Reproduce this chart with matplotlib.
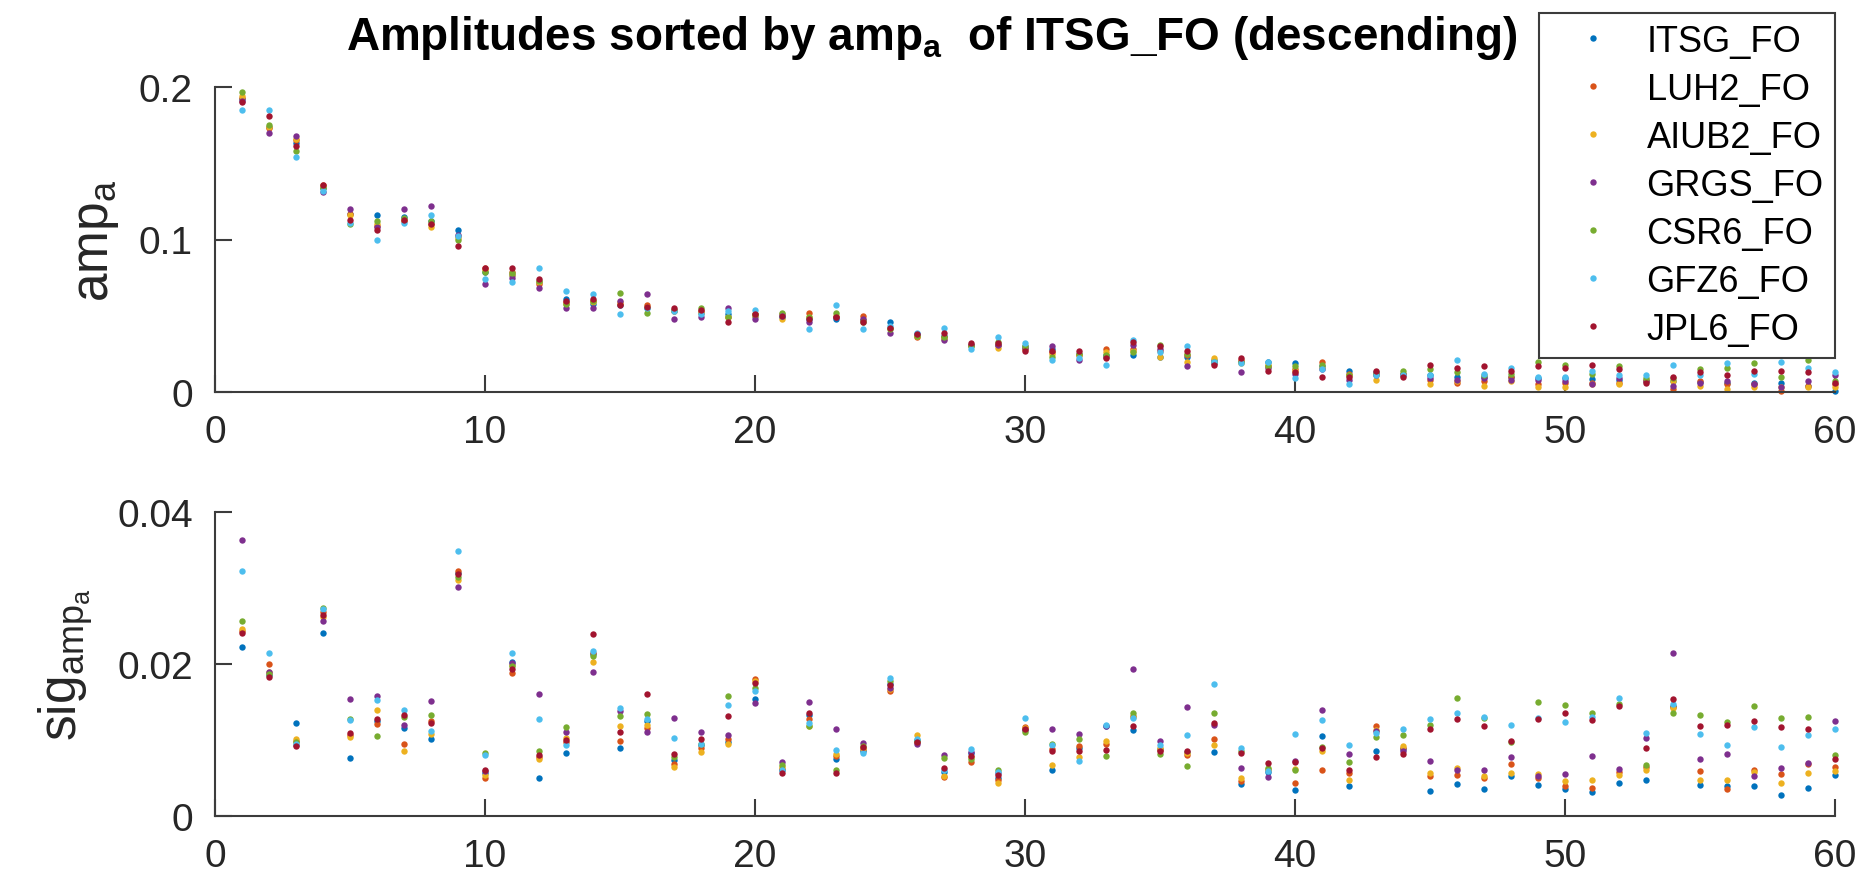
import matplotlib
matplotlib.use('Agg')
import matplotlib.pyplot as plt

plt.rcParams['font.family'] = ['Liberation Sans', 'DejaVu Sans']
plt.rcParams['mathtext.fontset'] = 'custom'
plt.rcParams['mathtext.rm'] = 'Liberation Sans'
plt.rcParams['mathtext.bf'] = 'Liberation Sans:bold'

# rank of the coefficient after sorting by ITSG_FO amplitude
rank = list(range(1, 61))

solutions = ['ITSG_FO', 'LUH2_FO', 'AIUB2_FO', 'GRGS_FO', 'CSR6_FO', 'GFZ6_FO', 'JPL6_FO']

# amplitude amp_a
amp_itsg = [0.192, 0.174, 0.163, 0.134, 0.117, 0.116, 0.115, 0.112, 0.106, 0.079,
            0.077, 0.072, 0.061, 0.058, 0.057, 0.055, 0.053, 0.052, 0.051, 0.050,
            0.049, 0.048, 0.048, 0.047, 0.046, 0.038, 0.037, 0.031, 0.031, 0.030,
            0.028, 0.025, 0.024, 0.024, 0.023, 0.023, 0.021, 0.020, 0.020, 0.019,
            0.017, 0.014, 0.013, 0.012, 0.011, 0.010, 0.010, 0.0098, 0.0095, 0.009,
            0.0087, 0.008, 0.0075, 0.007, 0.0065, 0.0062, 0.006, 0.0057, 0.004, 0.0004]
amp_luh2 = [0.193, 0.173, 0.165, 0.136, 0.117, 0.109, 0.112, 0.110, 0.102, 0.081,
            0.079, 0.071, 0.059, 0.060, 0.058, 0.057, 0.054, 0.053, 0.049, 0.051,
            0.051, 0.052, 0.049, 0.050, 0.042, 0.036, 0.036, 0.031, 0.031, 0.028,
            0.026, 0.024, 0.028, 0.028, 0.027, 0.024, 0.019, 0.021, 0.017, 0.015,
            0.020, 0.012, 0.012, 0.012, 0.008, 0.006, 0.007, 0.010, 0.005, 0.006,
            0.006, 0.006, 0.008, 0.002, 0.007, 0.005, 0.005, 0.0004, 0.004, 0.005]
amp_aiub2 = [0.194, 0.174, 0.166, 0.135, 0.116, 0.110, 0.113, 0.108, 0.101, 0.080,
             0.077, 0.072, 0.058, 0.059, 0.059, 0.056, 0.053, 0.052, 0.049, 0.050,
             0.048, 0.049, 0.050, 0.047, 0.042, 0.037, 0.035, 0.030, 0.029, 0.028,
             0.025, 0.024, 0.026, 0.027, 0.023, 0.020, 0.022, 0.019, 0.018, 0.014,
             0.016, 0.011, 0.008, 0.011, 0.005, 0.007, 0.004, 0.007, 0.003, 0.003,
             0.005, 0.005, 0.007, 0.007, 0.004, 0.002, 0.003, 0.003, 0.003, 0.003]
amp_grgs = [0.191, 0.170, 0.168, 0.131, 0.120, 0.108, 0.120, 0.122, 0.103, 0.071,
            0.075, 0.068, 0.055, 0.055, 0.060, 0.064, 0.048, 0.049, 0.055, 0.048,
            0.050, 0.046, 0.049, 0.048, 0.039, 0.038, 0.034, 0.031, 0.031, 0.029,
            0.030, 0.021, 0.023, 0.031, 0.028, 0.017, 0.019, 0.013, 0.016, 0.012,
            0.015, 0.008, 0.011, 0.011, 0.009, 0.008, 0.009, 0.008, 0.008, 0.007,
            0.005, 0.009, 0.0075, 0.004, 0.006, 0.007, 0.005, 0.003, 0.007, 0.011]
amp_csr6 = [0.197, 0.175, 0.158, 0.134, 0.110, 0.112, 0.114, 0.112, 0.100, 0.079,
            0.078, 0.073, 0.058, 0.060, 0.065, 0.052, 0.054, 0.055, 0.049, 0.051,
            0.052, 0.049, 0.052, 0.046, 0.041, 0.037, 0.036, 0.030, 0.033, 0.030,
            0.023, 0.025, 0.024, 0.026, 0.031, 0.025, 0.020, 0.020, 0.017, 0.017,
            0.018, 0.011, 0.012, 0.014, 0.015, 0.013, 0.011, 0.012, 0.020, 0.018,
            0.012, 0.017, 0.009, 0.009, 0.015, 0.016, 0.019, 0.010, 0.021, 0.007]
amp_gfz6 = [0.185, 0.185, 0.154, 0.132, 0.111, 0.100, 0.111, 0.116, 0.102, 0.074,
            0.072, 0.081, 0.066, 0.064, 0.051, 0.055, 0.053, 0.051, 0.053, 0.054,
            0.050, 0.041, 0.057, 0.041, 0.043, 0.039, 0.042, 0.028, 0.036, 0.032,
            0.021, 0.022, 0.018, 0.034, 0.026, 0.030, 0.020, 0.019, 0.020, 0.009,
            0.015, 0.005, 0.011, 0.011, 0.011, 0.021, 0.012, 0.016, 0.010, 0.010,
            0.014, 0.011, 0.011, 0.0175, 0.011, 0.019, 0.012, 0.020, 0.016, 0.013]
amp_jpl6 = [0.190, 0.181, 0.161, 0.136, 0.113, 0.106, 0.113, 0.110, 0.096, 0.081,
            0.081, 0.074, 0.060, 0.061, 0.057, 0.056, 0.055, 0.054, 0.046, 0.051,
            0.050, 0.048, 0.049, 0.046, 0.042, 0.038, 0.039, 0.032, 0.032, 0.027,
            0.027, 0.027, 0.022, 0.033, 0.030, 0.027, 0.018, 0.022, 0.014, 0.013,
            0.010, 0.010, 0.014, 0.010, 0.018, 0.016, 0.017, 0.014, 0.017, 0.016,
            0.018, 0.015, 0.006, 0.010, 0.013, 0.011, 0.014, 0.014, 0.013, 0.006]

# formal error sig_amp_a
sig_itsg = [0.0222, 0.0186, 0.0122, 0.0241, 0.0076, 0.0125, 0.0116, 0.0101, 0.0320, 0.0057,
            0.0203, 0.0050, 0.0083, 0.0213, 0.0090, 0.0125, 0.0074, 0.0093, 0.0098, 0.0154,
            0.0060, 0.0133, 0.0075, 0.0086, 0.0174, 0.0100, 0.0058, 0.0083, 0.0050, 0.0115,
            0.0061, 0.0090, 0.0118, 0.0113, 0.0088, 0.0084, 0.0084, 0.0042, 0.0058, 0.0034,
            0.0105, 0.0039, 0.0086, 0.0088, 0.0033, 0.0042, 0.0035, 0.0052, 0.0041, 0.0035,
            0.0032, 0.0043, 0.0048, 0.0145, 0.0041, 0.0040, 0.0039, 0.0027, 0.0037, 0.0054]
sig_luh2 = [0.0243, 0.0200, 0.0099, 0.0268, 0.0107, 0.0121, 0.0095, 0.0125, 0.0323, 0.0050,
            0.0188, 0.0078, 0.0098, 0.0215, 0.0099, 0.0116, 0.0069, 0.0090, 0.0101, 0.0180,
            0.0062, 0.0128, 0.0079, 0.0088, 0.0164, 0.0097, 0.0051, 0.0071, 0.0048, 0.0117,
            0.0088, 0.0092, 0.0095, 0.0132, 0.0087, 0.0080, 0.0101, 0.0046, 0.0060, 0.0043,
            0.0060, 0.0057, 0.0118, 0.0090, 0.0052, 0.0054, 0.0050, 0.0068, 0.0050, 0.0039,
            0.0037, 0.0058, 0.0064, 0.0144, 0.0059, 0.0036, 0.0061, 0.0055, 0.0068, 0.0065]
sig_aiub2 = [0.0246, 0.0190, 0.0101, 0.0262, 0.0104, 0.0139, 0.0085, 0.0108, 0.0310, 0.0054,
             0.0199, 0.0075, 0.0102, 0.0202, 0.0118, 0.0120, 0.0064, 0.0084, 0.0095, 0.0178,
             0.0064, 0.0118, 0.0082, 0.0089, 0.0167, 0.0106, 0.0053, 0.0077, 0.0043, 0.0116,
             0.0067, 0.0077, 0.0099, 0.0130, 0.0090, 0.0083, 0.0093, 0.0050, 0.0062, 0.0062,
             0.0085, 0.0048, 0.0113, 0.0092, 0.0057, 0.0063, 0.0053, 0.0056, 0.0055, 0.0046,
             0.0048, 0.0054, 0.0061, 0.0142, 0.0048, 0.0047, 0.0058, 0.0043, 0.0057, 0.0059]
sig_grgs = [0.0363, 0.0190, 0.0094, 0.0257, 0.0154, 0.0158, 0.0120, 0.0151, 0.0301, 0.0059,
            0.0201, 0.0160, 0.0110, 0.0189, 0.0138, 0.0110, 0.0129, 0.0110, 0.0107, 0.0149,
            0.0071, 0.0150, 0.0114, 0.0096, 0.0169, 0.0095, 0.0080, 0.0084, 0.0057, 0.0113,
            0.0114, 0.0108, 0.0118, 0.0193, 0.0099, 0.0143, 0.0120, 0.0063, 0.0051, 0.0073,
            0.0139, 0.0082, 0.0112, 0.0086, 0.0073, 0.0061, 0.0060, 0.0078, 0.0053, 0.0055,
            0.0079, 0.0062, 0.0103, 0.0214, 0.0075, 0.0081, 0.0053, 0.0063, 0.0070, 0.0125]
sig_csr6 = [0.0257, 0.0187, 0.0097, 0.0274, 0.0128, 0.0105, 0.0130, 0.0133, 0.0314, 0.0083,
            0.0197, 0.0085, 0.0117, 0.0211, 0.0131, 0.0134, 0.0078, 0.0095, 0.0158, 0.0169,
            0.0067, 0.0119, 0.0061, 0.0092, 0.0178, 0.0099, 0.0076, 0.0075, 0.0061, 0.0111,
            0.0095, 0.0101, 0.0079, 0.0135, 0.0081, 0.0066, 0.0136, 0.0086, 0.0063, 0.0061,
            0.0091, 0.0071, 0.0104, 0.0106, 0.0120, 0.0155, 0.0129, 0.0098, 0.0150, 0.0146,
            0.0135, 0.0148, 0.0067, 0.0135, 0.0133, 0.0124, 0.0145, 0.0129, 0.0130, 0.0080]
sig_gfz6 = [0.0322, 0.0214, 0.0095, 0.0272, 0.0126, 0.0152, 0.0140, 0.0112, 0.0349, 0.0080,
            0.0215, 0.0127, 0.0093, 0.0217, 0.0142, 0.0127, 0.0102, 0.0095, 0.0146, 0.0164,
            0.0061, 0.0122, 0.0087, 0.0083, 0.0182, 0.0101, 0.0060, 0.0088, 0.0058, 0.0129,
            0.0094, 0.0073, 0.0120, 0.0129, 0.0093, 0.0106, 0.0174, 0.0090, 0.0059, 0.0108,
            0.0126, 0.0093, 0.0109, 0.0114, 0.0128, 0.0136, 0.0130, 0.0120, 0.0129, 0.0124,
            0.0130, 0.0155, 0.0109, 0.0148, 0.0108, 0.0094, 0.0117, 0.0091, 0.0106, 0.0114]
sig_jpl6 = [0.0241, 0.0183, 0.0092, 0.0264, 0.0109, 0.0127, 0.0133, 0.0123, 0.0318, 0.0061,
            0.0194, 0.0080, 0.0100, 0.0239, 0.0110, 0.0160, 0.0081, 0.0101, 0.0132, 0.0175,
            0.0056, 0.0136, 0.0057, 0.0091, 0.0172, 0.0098, 0.0063, 0.0079, 0.0054, 0.0114,
            0.0085, 0.0086, 0.0087, 0.0118, 0.0085, 0.0086, 0.0123, 0.0083, 0.0070, 0.0071,
            0.0089, 0.0060, 0.0077, 0.0082, 0.0115, 0.0128, 0.0118, 0.0099, 0.0127, 0.0136,
            0.0126, 0.0145, 0.0089, 0.0154, 0.0118, 0.0120, 0.0125, 0.0117, 0.0114, 0.0075]

amp_all = [amp_itsg, amp_luh2, amp_aiub2, amp_grgs, amp_csr6, amp_gfz6, amp_jpl6]
sig_all = [sig_itsg, sig_luh2, sig_aiub2, sig_grgs, sig_csr6, sig_gfz6, sig_jpl6]

# MATLAB default colour order
colors = ['#0072BD', '#D95319', '#EDB120', '#7E2F8E', '#77AC30', '#4DBEEE', '#A2142F']

axis_col = '#3c3c3c'
W, H = 1859, 878
fig = plt.figure(figsize=(W / 100, H / 100), dpi=100)

# axes placed in pixel terms of the reference
ax1 = fig.add_axes([215 / W, 1 - 393 / H, 1620 / W, 305 / H])
ax2 = fig.add_axes([215 / W, 1 - 817 / H, 1620 / W, 304 / H])

handles = []
for i in range(len(solutions)):
    h, = ax1.plot(rank, amp_all[i], linestyle='none', marker='o', ms=4.6, mew=0,
                  color=colors[i], clip_on=False, label=solutions[i])
    ax2.plot(rank, sig_all[i], linestyle='none', marker='o', ms=4.6, mew=0,
             color=colors[i], clip_on=False)
    handles.append(h)

for ax, ylim, yticks in [(ax1, (0, 0.2), [0, 0.1, 0.2]),
                         (ax2, (0, 0.04), [0, 0.02, 0.04])]:
    ax.set_xlim(0, 60)
    ax.set_ylim(*ylim)
    ax.set_xticks([0, 10, 20, 30, 40, 50, 60])
    ax.set_yticks(yticks)
    ax.set_yticklabels([('%g' % t) for t in yticks])
    ax.spines['top'].set_visible(False)
    ax.spines['right'].set_visible(False)
    for s in ['left', 'bottom']:
        ax.spines[s].set_color(axis_col)
        ax.spines[s].set_linewidth(1.5)
    ax.tick_params(direction='in', length=12, width=1.5, color=axis_col,
                   labelcolor='#262626', labelsize=28)
    ax.tick_params(axis='x', pad=16)
    ax.tick_params(axis='y', pad=16)

ax1.set_ylabel(r'amp$_\mathregular{a}$', fontsize=37, color='#262626')
ax1.yaxis.set_label_coords(-0.058, 0.5)
ax2.set_ylabel(r'sig$_{\mathregular{amp}_\mathregular{a}}$', fontsize=37, color='#262626')
ax2.yaxis.set_label_coords(-0.074, 0.5)

fig.text(932 / W, 1 - 50 / H,
         r'Amplitudes sorted by amp$_{\mathbf{a}}$  of ITSG_FO (descending)',
         ha='center', va='baseline', fontsize=33, fontweight='bold', color='black')

leg = fig.legend(handles=handles, loc='upper left',
                 bbox_to_anchor=(1539 / W, 1 - 14 / H), borderaxespad=0,
                 fontsize=26, frameon=True, fancybox=False, framealpha=1,
                 edgecolor=axis_col, borderpad=0.3, labelspacing=0.36,
                 handlelength=2.4, handletextpad=0.28, markerscale=1.0)
leg.get_frame().set_linewidth(1.5)

fig.savefig('out.png', dpi=100)
